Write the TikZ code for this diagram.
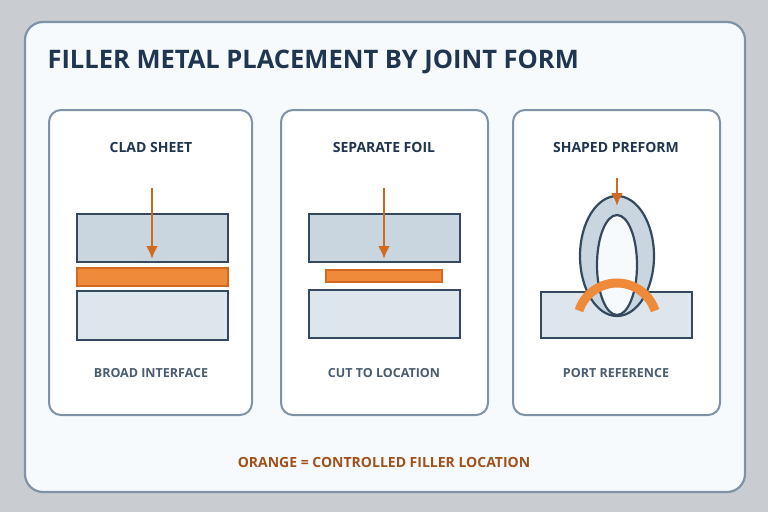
\documentclass[tikz,border=0pt]{standalone}
\usetikzlibrary{arrows.meta}
\usepackage{fontspec}
\setmainfont{Open Sans}
\begin{document}
\definecolor{bg}{HTML}{C9CDD1}
\definecolor{card}{HTML}{F7FAFC}
\definecolor{cardb}{HTML}{7F93A8}
\definecolor{ink}{HTML}{1F3550}
\definecolor{strk}{HTML}{34495E}
\definecolor{fillA}{HTML}{C9D6E0}
\definecolor{fillB}{HTML}{DDE5ED}
\definecolor{org}{HTML}{EE8A3A}
\definecolor{arr}{HTML}{D2691E}
\definecolor{sub}{HTML}{4A5D70}
\definecolor{foot}{HTML}{A0501A}
\begin{tikzpicture}[x=1pt,y=-1pt,
  panel/.style={draw=cardb,line width=2pt,fill=white,rounded corners=12pt},
  blkA/.style={draw=strk,line width=2.2pt,fill=fillA},
  blkB/.style={draw=strk,line width=2.2pt,fill=fillB},
  filler/.style={draw=arr,line width=1.5pt,fill=org},
  push/.style={draw=arr,line width=2.8pt,-{Latex[length=13pt,width=12pt]}},
  ptitle/.style={font=\bfseries\fontsize{14}{16}\selectfont,text=ink},
  psub/.style={font=\bfseries\fontsize{12.5}{14}\selectfont,text=sub}]
\useasboundingbox (0,0) rectangle (768,512);
\fill[bg] (0,0) rectangle (768,512);
\draw[draw=cardb,line width=2.2pt,fill=card,rounded corners=18pt] (25,22) rectangle (745,492);
\node[anchor=west,font=\bfseries\fontsize{25.5}{28}\selectfont,text=ink] (title) at (44,62) {FILLER METAL PLACEMENT BY JOINT FORM};
% panels
\draw[panel] (49,110) rectangle (252,415);
\draw[panel] (281,110) rectangle (488,415);
\draw[panel] (513,110) rectangle (720,415);
\node[ptitle] (t1) at (151,147) {CLAD SHEET};
\node[ptitle] (t2) at (384,147) {SEPARATE FOIL};
\node[ptitle] (t3) at (616,147) {SHAPED PREFORM};
\node[psub] (s1) at (151,373) {BROAD INTERFACE};
\node[psub] (s2) at (384,373) {CUT TO LOCATION};
\node[psub] (s3) at (616,373) {PORT REFERENCE};
% panel 1
\draw[blkA] (77,214) rectangle (228,262);
\draw[filler] (77,268) rectangle (228,286);
\draw[blkB] (77,291) rectangle (228,340);
\coordinate (a1s) at (152,188); \coordinate (a1e) at (152,259);
\draw[push] (a1s) -- (a1e);
% panel 2
\draw[blkA] (309,214) rectangle (460,262);
\draw[filler] (326,270) rectangle (442,282);
\draw[blkB] (309,290) rectangle (460,338);
\coordinate (a2s) at (384,188); \coordinate (a2e) at (384,259);
\draw[push] (a2s) -- (a2e);
% panel 3
\draw[blkB] (541,292) rectangle (692,338);
\draw[strk,line width=2.2pt,fill=fillA] (617,256) ellipse [x radius=37,y radius=60];
\draw[strk,line width=2.2pt,fill=card] (617,265) ellipse [x radius=20,y radius=50];
\draw[org,line width=9pt] (617,323) ++(198:40) arc[start angle=198,end angle=342,radius=40];
\coordinate (a3s) at (617,178); \coordinate (a3e) at (617,206);
\draw[push] (a3s) -- (a3e);
\node[font=\bfseries\fontsize{14}{16}\selectfont,text=foot] (ft) at (384,462) {ORANGE = CONTROLLED FILLER LOCATION};
\end{tikzpicture}
\end{document}
